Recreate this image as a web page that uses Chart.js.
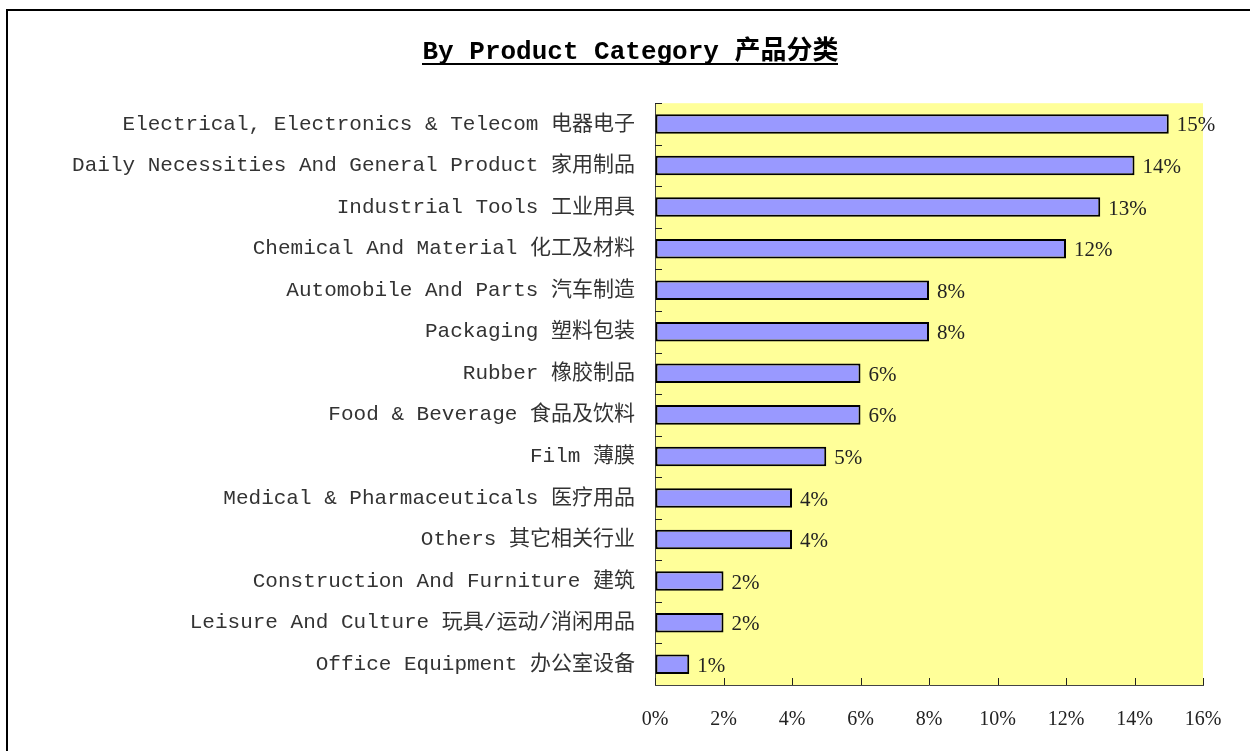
<!DOCTYPE html>
<html>
<head>
<meta charset="utf-8">
<script src="https://cdn.jsdelivr.net/npm/chart.js@4"></script>
<style>
  body { margin: 0; background: #fff; overflow: hidden; }
  #frame { position: absolute; left: 6px; top: 9px; width: 1300px; height: 800px; border-left: 2px solid #000; border-top: 2px solid #000; }
  #chart { position: absolute; left: 0; top: 0; }
</style>
</head>
<body>
<div id="frame"></div>
<canvas id="chart" width="1250" height="751"></canvas>
<script>
// chart data
const categories = [
  'Electrical, Electronics & Telecom 电器电子',
  'Daily Necessities And General Product 家用制品',
  'Industrial Tools 工业用具',
  'Chemical And Material 化工及材料',
  'Automobile And Parts 汽车制造',
  'Packaging 塑料包装',
  'Rubber 橡胶制品',
  'Food & Beverage 食品及饮料',
  'Film 薄膜',
  'Medical & Pharmaceuticals 医疗用品',
  'Others 其它相关行业',
  'Construction And Furniture 建筑',
  'Leisure And Culture 玩具/运动/消闲用品',
  'Office Equipment 办公室设备'
];
const shares = [15, 14, 13, 12, 8, 8, 6, 6, 5, 4, 4, 2, 2, 1];
const xTicks = [0, 2, 4, 6, 8, 10, 12, 14, 16];

const monoFont = "'Liberation Mono', 'Noto Sans CJK SC', monospace";
const serifFont = "'Liberation Serif', 'Noto Sans CJK SC', serif";
const axisColor = '#444';

// yellow plot background
const plotBackground = {
  id: 'plotBackground',
  beforeDraw(chart) {
    const { ctx, chartArea: a } = chart;
    ctx.save();
    ctx.fillStyle = '#FFFF99';
    ctx.fillRect(a.left, a.top, a.right - a.left, a.bottom - a.top);
    ctx.restore();
  }
};

// short tick marks pointing into the plot
const innerTicks = {
  id: 'innerTicks',
  afterDraw(chart) {
    const { ctx, chartArea: a } = chart;
    const x = chart.scales.x, y = chart.scales.y;
    ctx.save();
    ctx.strokeStyle = '#222';
    ctx.lineWidth = 1;
    ctx.beginPath();
    const band = (a.bottom - a.top) / categories.length;
    for (let i = 0; i < categories.length; i++) {
      const py = Math.round(y.getPixelForValue(i) - band / 2) + 0.5;
      ctx.moveTo(a.left, py);
      ctx.lineTo(a.left + 7, py);
    }
    xTicks.forEach(v => {
      const px = Math.round(x.getPixelForValue(v)) + 0.5;
      ctx.moveTo(px, a.bottom);
      ctx.lineTo(px, a.bottom - 7);
    });
    ctx.stroke();
    ctx.restore();
  }
};

// value labels next to bars + title underline
const barLabels = {
  id: 'barLabels',
  afterDatasetsDraw(chart) {
    const { ctx } = chart;
    const meta = chart.getDatasetMeta(0);
    ctx.save();
    ctx.fillStyle = '#222';
    ctx.font = '21px ' + serifFont;
    ctx.textAlign = 'left';
    ctx.textBaseline = 'middle';
    meta.data.forEach((bar, i) => {
      ctx.fillText(shares[i] + '%', bar.x + 8, bar.y + 2);
    });
    ctx.restore();
  },
  afterDraw(chart) {
    const { ctx } = chart;
    const t = chart.titleBlock;
    const text = chart.options.plugins.title.text;
    ctx.save();
    ctx.font = 'bold 26px ' + monoFont;
    const w = ctx.measureText(text).width;
    const cx = t.left + t.width / 2;
    ctx.fillStyle = '#000';
    ctx.fillRect(Math.round(cx - w / 2), 63, Math.round(w), 2);
    ctx.restore();
  }
};

new Chart(document.getElementById('chart'), {
  type: 'bar',
  data: {
    labels: categories,
    datasets: [{
      data: shares,
      backgroundColor: '#9999FF',
      borderColor: '#000',
      borderWidth: 2,
      borderSkipped: false,
      categoryPercentage: 1,
      barPercentage: 0.47
    }]
  },
  options: {
    indexAxis: 'y',
    responsive: false,
    animation: false,
    layout: { padding: { left: 58, right: 47, top: 0, bottom: 0 } },
    scales: {
      x: {
        min: 0,
        max: 16,
        grid: { drawOnChartArea: false, drawTicks: false },
        border: { display: true, color: axisColor, width: 1 },
        ticks: {
          stepSize: 2,
          padding: 23,
          color: '#222',
          font: { family: serifFont, size: 20 },
          callback: v => v + '%'
        },
        afterFit(scale) { scale.height = 66; }
      },
      y: {
        grid: { drawOnChartArea: false, drawTicks: false },
        border: { display: true, color: axisColor, width: 1 },
        ticks: {
          padding: 20,
          color: '#333',
          font: { family: monoFont, size: 21 }
        },
        afterFit(scale) { scale.width = 597; }
      }
    },
    plugins: {
      legend: { display: false },
      tooltip: { enabled: false },
      title: {
        display: true,
        text: 'By Product Category 产品分类',
        color: '#000',
        font: { family: monoFont, size: 26, weight: 'bold', lineHeight: 1.2 },
        padding: { top: 37, bottom: 35 }
      }
    }
  },
  plugins: [plotBackground, innerTicks, barLabels]
});
</script>
</body>
</html>
